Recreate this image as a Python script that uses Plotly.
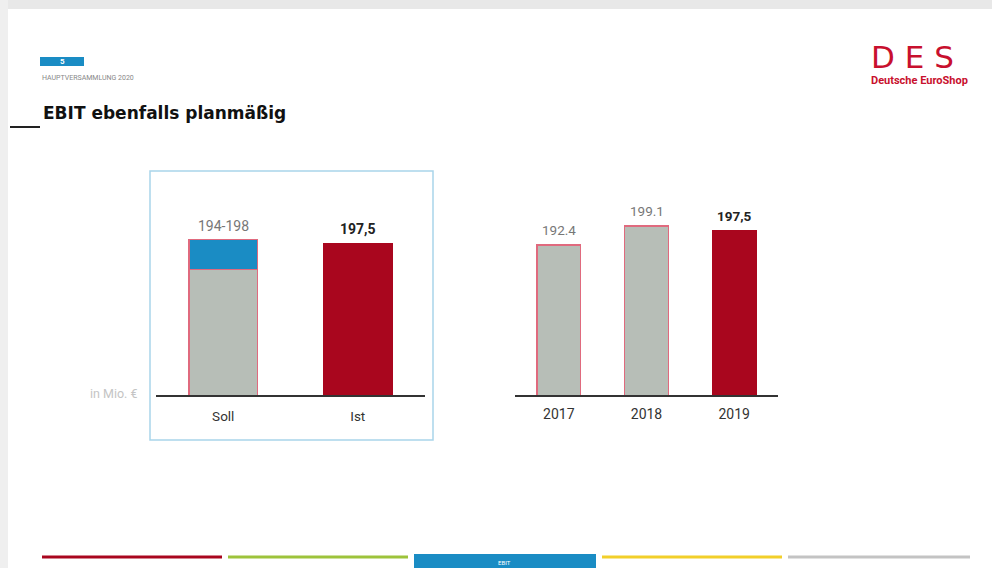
import plotly.graph_objects as go

W, H = 992, 568

# ---- data ----
plan_cats = ["Soll", "Ist"]
plan_base = [194, None]        # lower (gray) part of Soll range
plan_range = [4, None]         # blue range 194-198
ist_value = [None, 197.5]
plan_labels = ["194-198", "197,5"]
plan_label_y = [198, 197.5]

years = ["2017", "2018", "2019"]
ebit_values = [192.4, 199.1, 197.5]
ebit_labels = ["192.4", "199.1", "197,5"]

GRAY = "#b7beb7"
RED = "#a9061e"
BLUE = "#1a8cc4"
OUTLINE = "#e06a7e"


def fx(p):
    return p / W


def fy(p):
    return 1 - p / H


fig = go.Figure()

# left chart (Soll / Ist)
fig.add_trace(go.Bar(x=plan_cats, y=plan_base, marker=dict(color=GRAY, line=dict(color=OUTLINE, width=1.2)),
                     width=0.51, xaxis="x", yaxis="y", hoverinfo="skip"))
fig.add_trace(go.Bar(x=plan_cats, y=plan_range, base=plan_base,
                     marker=dict(color=BLUE, line=dict(color=OUTLINE, width=1.2)),
                     width=0.51, xaxis="x", yaxis="y", hoverinfo="skip"))
fig.add_trace(go.Bar(x=plan_cats, y=ist_value, marker=dict(color=RED, line=dict(color=RED, width=1)),
                     width=0.51, xaxis="x", yaxis="y", hoverinfo="skip"))

# right chart (years)
bar_colors = [GRAY, GRAY, RED]
line_colors = [OUTLINE, OUTLINE, RED]
fig.add_trace(go.Bar(x=years, y=ebit_values, marker=dict(color=bar_colors, line=dict(color=line_colors, width=1.2)),
                     width=0.5, xaxis="x2", yaxis="y2", hoverinfo="skip"))

annotations = []
for i, (v, t) in enumerate(zip(plan_label_y, plan_labels)):
    bold = t == "197,5"
    annotations.append(dict(x=i, y=v, xref="x", yref="y", text=f"<b>{t}</b>" if bold else t,
                            showarrow=False, yanchor="bottom", xanchor="center", yshift=4,
                            font=dict(size=14, color="#222" if bold else "#777", family="Roboto")))
for i, (v, t) in enumerate(zip(ebit_values, ebit_labels)):
    bold = years[i] == "2019"
    annotations.append(dict(x=i, y=v, xref="x2", yref="y2", text=f"<b>{t}</b>" if bold else t,
                            showarrow=False, yanchor="bottom", xanchor="center", yshift=5,
                            font=dict(size=13.5, color="#222" if bold else "#777", family="Roboto")))


def note(xp, yp, text, size, color, family="Roboto", xanchor="center"):
    return dict(x=fx(xp), y=fy(yp), xref="paper", yref="paper", text=text, showarrow=False,
                xanchor=xanchor, yanchor="middle", font=dict(size=size, color=color, family=family))


# header / decorations
annotations += [
    note(62, 61.5, "<b>5</b>", 8, "white"),
    note(40, 78, "HAUPTVERSAMMLUNG 2020", 7, "#888", xanchor="left"),
    note(41, 113, "<b>EBIT ebenfalls planmäßig</b>", 17, "#111", family="DejaVu Sans", xanchor="left"),
    note(912, 57, "D E S", 31, "#c8102e", family="DejaVu Sans"),
    note(919, 80, "<b>Deutsche EuroShop</b>", 11, "#c8102e"),
    note(140, 393, "in Mio. €", 12.5, "#c4c4c4", xanchor="right"),
    note(505, 562, "EBIT", 6, "white"),
]

shapes = [
    # grey frame at top / left
    dict(type="rect", xref="paper", yref="paper", x0=0, x1=1, y0=fy(9), y1=1, fillcolor="#e8e8e8", line_width=0, layer="below"),
    dict(type="rect", xref="paper", yref="paper", x0=0, x1=fx(8), y0=0, y1=1, fillcolor="#efefef", line_width=0, layer="below"),
    # blue page badge
    dict(type="rect", xref="paper", yref="paper", x0=fx(40), x1=fx(84), y0=fy(66), y1=fy(57), fillcolor=BLUE, line_width=0, layer="below"),
    # title dash
    dict(type="line", xref="paper", yref="paper", x0=fx(10), x1=fx(40), y0=fy(127), y1=fy(127), line=dict(color="#222", width=2)),
    # panel box
    dict(type="rect", xref="paper", yref="paper", x0=fx(150), x1=fx(433), y0=fy(440), y1=fy(171),
         line=dict(color="#a9d5ea", width=1.5), fillcolor="rgba(0,0,0,0)"),
    # bottom navigation bars
    dict(type="line", xref="paper", yref="paper", x0=fx(42), x1=fx(222), y0=fy(557), y1=fy(557), line=dict(color="#a9061e", width=3)),
    dict(type="line", xref="paper", yref="paper", x0=fx(228), x1=fx(408), y0=fy(557), y1=fy(557), line=dict(color="#9dc33b", width=3)),
    dict(type="rect", xref="paper", yref="paper", x0=fx(414), x1=fx(596), y0=0, y1=fy(554), fillcolor=BLUE, line_width=0, layer="below"),
    dict(type="line", xref="paper", yref="paper", x0=fx(602), x1=fx(782), y0=fy(557), y1=fy(557), line=dict(color="#f2cf2a", width=3)),
    dict(type="line", xref="paper", yref="paper", x0=fx(788), x1=fx(970), y0=fy(557), y1=fy(557), line=dict(color="#c3c3c3", width=3)),
]

axis_common = dict(showgrid=False, zeroline=False, fixedrange=True, automargin=False)
fig.update_layout(
    width=W, height=H, margin=dict(l=0, r=0, t=0, b=0, pad=0, autoexpand=False),
    paper_bgcolor="white", plot_bgcolor="rgba(0,0,0,0)",
    barmode="stack", showlegend=False,
    xaxis=dict(domain=[fx(156), fx(425)], type="category", range=[-0.5, len(plan_cats) - 0.5],
               showline=True, linecolor="#333", linewidth=1.5, ticks="", ticklabelstandoff=8,
               tickfont=dict(size=13.5, color="#333", family="Roboto"), **axis_common),
    yaxis=dict(domain=[fy(395), fy(170)], range=[177.3, 207.3], visible=False, **axis_common),
    xaxis2=dict(domain=[fx(515), fx(778)], type="category", range=[-0.5, len(years) - 0.5], anchor="y2",
                showline=True, linecolor="#333", linewidth=1.5, ticks="", ticklabelstandoff=5,
                tickfont=dict(size=14, color="#333", family="Roboto"), **axis_common),
    yaxis2=dict(domain=[fy(395), fy(170)], range=[139.6, 218.8], visible=False, anchor="x2", **axis_common),
    annotations=annotations, shapes=shapes,
)

fig.write_html("out.html")
